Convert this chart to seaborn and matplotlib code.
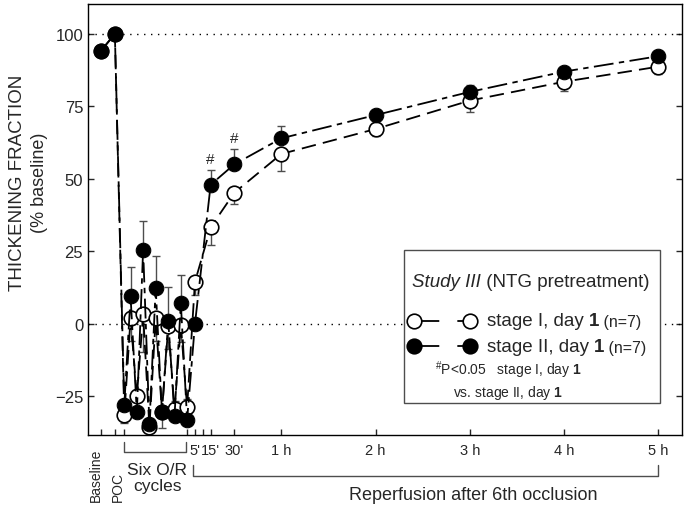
import numpy as np
import pandas as pd
import seaborn as sns
import matplotlib.pyplot as plt

# time axis in minutes, 0 = start of reperfusion after the 6th occlusion
times = [-55, -46, -40, -36, -32, -28, -24, -20, -16, -12, -8, -4, 0,
         5, 15, 30, 60, 120, 180, 240, 300]

# stage I, day 1 (open circles)
stage1 = [94, 100, -31.5, 2, -25, 3.4, -35.7, 2, -30.5, -0.6, -29.5, -0.3, -28.7,
          14.5, 33.3, 45.2, 58.6, 67.2, 77, 83.5, 88.7]
stage1_lo = [0, 0, 2.5, 8, 0, 13, 0, 8, 0, 8, 0, 6, 0,
             4.5, 6, 4, 6, 2.5, 3.8, 3.3, 2.5]
stage1_hi = [0, 0, 0, 0, 0, 0, 0, 0, 0, 0, 3, 0, 2.8,
             0, 0, 0, 0, 0, 0, 0, 0]

# stage II, day 1 (filled circles)
stage2 = [94.1, 100, -28, 9.5, -30.5, 25.6, -34.6, 12.3, -30.5, 1.1, -31.6, 7.2, -33,
          0, 48, 55, 64, 72, 80, 87, 92.3]
stage2_lo = [0, 0, 0, 0, 0, 0, 0, 0, 5.5, 0, 0, 0, 0,
             0, 0, 0, 0, 0, 0, 0, 0]
stage2_hi = [2, 0, 0, 10, 0, 10, 0, 11, 0, 11.5, 0, 9.7, 0,
             0, 5, 5.3, 4.4, 1.8, 2.3, 1.2, 0]

significant = [15, 30]

x_ticks = [-55, -46, -40, 0, 5, 10, 15, 30, 60, 120, 180, 240, 300]
x_labels = ['', '', '', '', "5'", '', "15'", "30'", '1 h', '2 h', '3 h', '4 h', '5 h']
y_ticks = [-25, 0, 25, 50, 75, 100]

df = pd.DataFrame({'time': times, 'stage I': stage1, 'stage II': stage2})

sns.set_style('ticks')
plt.rcParams['font.family'] = ['Liberation Sans', 'DejaVu Sans']
plt.rcParams['mathtext.fontset'] = 'custom'
plt.rcParams['mathtext.rm'] = 'Liberation Sans'
plt.rcParams['mathtext.it'] = 'Liberation Sans:italic'
plt.rcParams['mathtext.bf'] = 'Liberation Sans:bold'

fig = plt.figure(figsize=(6.87, 5.06), dpi=100)
ax = fig.add_axes([0.1281, 0.1383, 0.8646, 0.8518])

ax.axhline(100, ls=(0, (1, 4)), color='black', lw=1, zorder=1)
ax.axhline(0, ls=(0, (1, 4)), color='black', lw=1, zorder=1)


def error_bars(y, lo, hi):
    t = np.array(times)
    y, lo, hi = np.array(y), np.array(lo), np.array(hi)
    keep = (lo > 0) | (hi > 0)
    ax.errorbar(t[keep], y[keep], yerr=[lo[keep], hi[keep]], fmt='none',
                ecolor='0.3', elinewidth=1, capsize=3, capthick=1, zorder=2)


error_bars(stage1, stage1_lo, stage1_hi)
error_bars(stage2, stage2_lo, stage2_hi)

sns.lineplot(data=df, x='time', y='stage I', ax=ax, sort=False, errorbar=None,
             color='black', lw=1.3, linestyle=(0, (8, 4)), marker='o',
             markersize=10.5, markerfacecolor='white', markeredgecolor='black',
             markeredgewidth=1.2, zorder=3)
sns.lineplot(data=df, x='time', y='stage II', ax=ax, sort=False, errorbar=None,
             color='black', lw=1.3, linestyle=(0, (11, 3, 3, 3)), marker='o',
             markersize=10.5, markerfacecolor='black', markeredgecolor='black',
             zorder=4)

for t, v, h in zip(times, stage2, stage2_hi):
    if t in significant:
        ax.annotate('#', (t, v + h), xytext=(0, 3), textcoords='offset points',
                    ha='center', va='bottom', fontsize=11)

ax.set_xlim(-63.1, 315.1)
ax.set_ylim(-38.3, 110.3)
ax.set_xticks(x_ticks, x_labels)
ax.set_yticks(y_ticks)
ax.set_xlabel('')
ax.set_ylabel('')
ax.tick_params(direction='in', length=4, width=1, right=True, labelsize=12)
ax.tick_params(axis='x', labelsize=10.5, pad=6)
for s in ax.spines.values():
    s.set_linewidth(1)
    s.set_color('black')

fig.text(0.025, 0.638, 'THICKENING FRACTION', rotation=90, fontsize=13.5,
         ha='center', va='center')
fig.text(0.058, 0.638, '(% baseline)', rotation=90, fontsize=13,
         ha='center', va='center')

# labels under the x axis
xt = ax.get_xaxis_transform()
ax.plot([-40, -40, -1, -1], [-0.016, -0.039, -0.039, -0.016], color='0.3',
        lw=1, transform=xt, clip_on=False)
ax.plot([4, 4, 300, 300], [-0.07, -0.095, -0.095, -0.07], color='0.3',
        lw=1, transform=xt, clip_on=False)
ax.text(-19, -0.079, 'Six O/R', transform=xt, ha='center', va='center', fontsize=12.5)
ax.text(-19, -0.118, 'cycles', transform=xt, ha='center', va='center', fontsize=12.5)
ax.text(182, -0.139, 'Reperfusion after 6th occlusion', transform=xt,
        ha='center', va='center', fontsize=13)
ax.text(-58, -0.153, 'Baseline', transform=xt, rotation=90, ha='center',
        va='bottom', fontsize=10)
ax.text(-44, -0.153, 'POC', transform=xt, rotation=90, ha='center',
        va='bottom', fontsize=10)

# legend box
ax.add_patch(plt.Rectangle((0.532, 0.0742), 0.431, 0.355, transform=ax.transAxes,
                           facecolor='white', edgecolor='0.3', lw=1, zorder=6))
t1 = ax.text(0.545, 0.357, 'Study III', transform=ax.transAxes, style='italic',
             fontsize=13.5, va='center', zorder=7)
ax.annotate(' (NTG pretreatment)', xy=(1, 0), xycoords=t1, va='bottom',
            fontsize=13.5, zorder=7)
for yy, fc, name in [(0.265, 'white', 'stage I'), (0.206, 'black', 'stage II')]:
    ax.plot([0.549, 0.643], [yy, yy], transform=ax.transAxes, color='black',
            lw=1.3, linestyle=(0, (14, 10, 20, 10)), marker='o', markersize=10.5,
            markerfacecolor=fc, markeredgecolor='black', markeredgewidth=1.2,
            zorder=7, clip_on=False)
    a = ax.text(0.671, yy, name + ', day ', transform=ax.transAxes,
                fontsize=13.5, va='center', zorder=7)
    b = ax.annotate('1', xy=(1, 0), xycoords=a, va='bottom', fontsize=13.5,
                    fontweight='bold', zorder=7)
    ax.annotate(' (n=7)', xy=(1, 0), xycoords=b, va='bottom', fontsize=11.5,
                zorder=7)
ax.text(0.584, 0.152, r'$^{\#}$P<0.05   stage I, day $\mathbf{1}$',
        transform=ax.transAxes, fontsize=10, va='center', zorder=7)
ax.text(0.6145, 0.099, r'vs. stage II, day $\mathbf{1}$',
        transform=ax.transAxes, fontsize=10, va='center', zorder=7)

fig.savefig('out.png', dpi=100)
